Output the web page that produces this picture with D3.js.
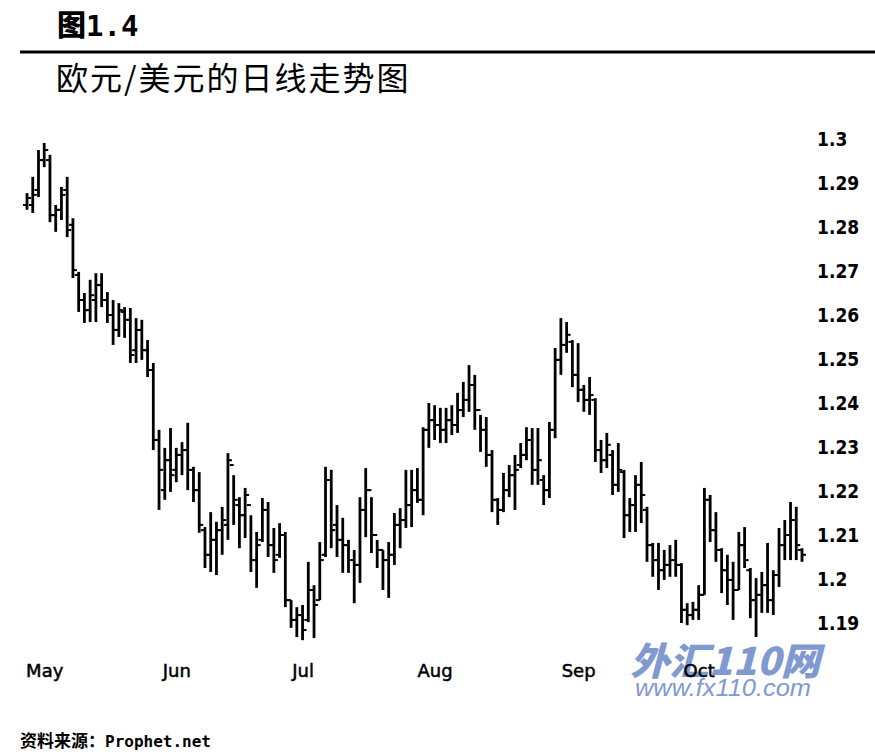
<!DOCTYPE html>
<html>
<head>
<meta charset="utf-8">
<script src="https://cdn.jsdelivr.net/npm/d3@7"></script>
<style>
  body { margin: 0; background: #fff; }
  svg { display: block; }
</style>
</head>
<body>
<div id="chart"></div>
<script>
// Data (EUR/USD daily bars, May - Oct)

const highs  = [1.2877,1.2914,1.2975,1.2991,1.2964,1.2850,1.2891,1.2914,1.2820,1.2698,
                1.2650,1.2680,1.2695,1.2695,1.2652,1.2634,1.2627,1.2618,1.2616,1.2593,
                1.2589,1.2543,1.2491,1.2339,1.2298,1.2343,1.2298,1.2311,1.2355,1.2255,
                1.2243,1.2118,1.2152,1.2130,1.2164,1.2286,1.2236,1.2186,1.2207,1.2145,
                1.2107,1.2184,1.2175,1.2116,1.2127,1.2107,1.1952,1.1936,1.1941,1.2039,
                1.1986,1.2084,1.2255,1.2248,1.2168,1.2139,1.2089,1.2066,1.2186,1.2252,
                1.2186,1.2089,1.2066,1.2084,1.2150,1.2161,1.2248,1.2248,1.2252,1.2345,
                1.2400,1.2395,1.2389,1.2389,1.2395,1.2423,1.2448,1.2486,1.2464,1.2373,
                1.2368,1.2293,1.2184,1.2241,1.2259,1.2282,1.2309,1.2345,1.2343,1.2343,
                1.2236,1.2357,1.2525,1.2593,1.2584,1.2543,1.2536,1.2441,1.2459,1.2411,
                1.2316,1.2332,1.2293,1.2309,1.2248,1.2184,1.2236,1.2266,1.2164,1.2082,
                1.2082,1.2066,1.2077,1.2089,1.2036,1.1945,1.1948,1.1986,1.2207,1.2191,
                1.2152,1.2070,1.2055,1.2039,1.2107,1.2118,1.2025,1.2002,1.2016,1.2082,
                1.2020,1.2116,1.2134,1.2175,1.2164,1.2070];

const lows   = [1.2839,1.2832,1.2868,1.2936,1.2811,1.2789,1.2816,1.2777,1.2684,1.2607,
                1.2582,1.2584,1.2584,1.2618,1.2582,1.2532,1.2550,1.2548,1.2491,1.2491,
                1.2498,1.2459,1.2293,1.2157,1.2180,1.2198,1.2220,1.2236,1.2202,1.2175,
                1.2105,1.2025,1.2016,1.2009,1.2055,1.2089,1.2123,1.2070,1.2093,1.2016,
                1.1980,1.2084,1.2050,1.2014,1.2048,1.1936,1.1889,1.1868,1.1861,1.1902,
                1.1866,1.1952,1.2050,1.2070,1.2050,1.2014,1.2014,1.1945,1.1991,1.2095,
                1.2059,1.2025,1.1975,1.1957,1.2032,1.2070,1.2116,1.2118,1.2173,1.2145,
                1.2298,1.2316,1.2309,1.2309,1.2327,1.2332,1.2368,1.2380,1.2339,1.2289,
                1.2255,1.2152,1.2123,1.2152,1.2186,1.2157,1.2252,1.2270,1.2214,1.2214,
                1.2168,1.2184,1.2320,1.2464,1.2514,1.2436,1.2402,1.2380,1.2373,1.2266,
                1.2241,1.2252,1.2191,1.2198,1.2093,1.2107,1.2107,1.2127,1.2039,1.2005,
                1.1975,1.1998,1.2005,1.2005,1.1900,1.1895,1.1907,1.1907,1.1964,1.2084,
                1.2039,1.1968,1.1941,1.1907,1.1975,1.2025,1.1911,1.1868,1.1923,1.1923,
                1.1918,1.1982,1.2043,1.2043,1.2043,1.2039];

const opens  = [1.2850,1.2850,1.2884,1.2952,1.2952,1.2827,1.2839,1.2884,1.2805,1.2691,
                1.2634,1.2611,1.2634,1.2668,1.2634,1.2600,1.2566,1.2607,1.2589,1.2520,
                1.2566,1.2520,1.2475,1.2316,1.2202,1.2270,1.2248,1.2282,1.2293,1.2248,
                1.2202,1.2111,1.2055,1.2089,1.2111,1.2123,1.2259,1.2168,1.2145,1.2168,
                1.2043,1.2089,1.2157,1.2077,1.2055,1.2100,1.1952,1.1907,1.1918,1.1907,
                1.1975,1.1952,1.2055,1.2225,1.2123,1.2089,1.2077,1.2043,1.2032,1.2157,
                1.2202,1.2100,1.2066,1.2043,1.2055,1.2123,1.2134,1.2168,1.2202,1.2180,
                1.2339,1.2361,1.2350,1.2339,1.2361,1.2350,1.2384,1.2407,1.2441,1.2384,
                1.2339,1.2282,1.2180,1.2157,1.2202,1.2236,1.2259,1.2282,1.2316,1.2248,
                1.2225,1.2202,1.2339,1.2498,1.2532,1.2539,1.2464,1.2430,1.2407,1.2407,
                1.2293,1.2270,1.2282,1.2214,1.2243,1.2145,1.2168,1.2214,1.2157,1.2077,
                1.2043,1.2020,1.2032,1.2043,1.2032,1.1930,1.1918,1.1930,1.1964,1.2180,
                1.2111,1.2066,1.2020,1.1998,1.1975,1.2077,1.2020,1.1952,1.1964,1.1986,
                1.1952,1.2009,1.2077,1.2100,1.2134,1.2066];

const closes = [1.2866,1.2873,1.2952,1.2975,1.2827,1.2839,1.2873,1.2793,1.2702,1.2634,
                1.2611,1.2645,1.2668,1.2634,1.2600,1.2566,1.2611,1.2589,1.2509,1.2566,
                1.2520,1.2475,1.2316,1.2248,1.2270,1.2236,1.2282,1.2293,1.2248,1.2202,
                1.2123,1.2055,1.2089,1.2111,1.2134,1.2270,1.2180,1.2145,1.2191,1.2043,
                1.2077,1.2157,1.2077,1.2043,1.2100,1.1952,1.1907,1.1918,1.1884,1.1975,
                1.1941,1.2043,1.2225,1.2111,1.2089,1.2077,1.2043,1.2032,1.2157,1.2202,
                1.2100,1.2066,1.2043,1.2055,1.2123,1.2134,1.2168,1.2202,1.2180,1.2339,
                1.2361,1.2350,1.2339,1.2361,1.2350,1.2384,1.2407,1.2441,1.2384,1.2339,
                1.2282,1.2180,1.2157,1.2202,1.2236,1.2248,1.2282,1.2316,1.2248,1.2270,
                1.2202,1.2339,1.2498,1.2532,1.2555,1.2464,1.2430,1.2407,1.2418,1.2293,
                1.2270,1.2305,1.2214,1.2248,1.2145,1.2168,1.2214,1.2191,1.2077,1.2043,
                1.2020,1.2032,1.2043,1.2032,1.1930,1.1918,1.1930,1.1964,1.2180,1.2111,
                1.2066,1.2020,1.1998,1.1975,1.2077,1.2043,1.1952,1.1964,1.1986,1.1952,
                1.2009,1.2077,1.2100,1.2134,1.2077,1.2055];

const monthLabels = ["May", "Jun", "Jul", "Aug", "Sep", "Oct"];                                // Month names under the bars
const monthIndex  = [3, 26, 48, 71, 96, 117];                                                  // Bar index each month label sits under
const priceTicks  = [1.19, 1.2, 1.21, 1.22, 1.23, 1.24, 1.25, 1.26, 1.27, 1.28, 1.29, 1.3];   // Right axis tick values

// Build bar rows from the arrays

const bars = highs.map((h, i) => ({i: i, high: h, low: lows[i], open: opens[i], close: closes[i]}));

// Canvas

const width = 875, height = 754;

const svg = d3.select('#chart').append('svg')
    .attr("width", width)
    .attr("height", height);

// Scales

const x = d3.scaleLinear().domain([0, bars.length - 1]).range([27, 802]);                     // Bar index -> pixel
const y = d3.scaleLinear().domain([1.19, 1.3]).range([623, 139]);                              // Price -> pixel

// Header: figure number, rule and title

const fig = svg.append("text")
    .attr("x", 57).attr("y", 36)
    .style("font-weight", "bold")
    .style("font-size", "29px");
fig.append("tspan")
    .style("font-family", "'Noto Sans CJK SC', sans-serif")
    .style("font-weight", "900")
    .text("图");
fig.append("tspan")
    .style("font-family", "'DejaVu Sans Mono', monospace")
    .text("1.4");

svg.append("line")
    .attr("x1", 20).attr("x2", width)
    .attr("y1", 52).attr("y2", 52)
    .style("stroke", "#000")
    .style("stroke-width", 3);

svg.append("text")
    .attr("x", 56).attr("y", 90)
    .style("font-family", "'Noto Sans CJK SC', sans-serif")
    .style("font-size", "32px")
    .style("letter-spacing", "2px")
    .text("欧元/美元的日线走势图");

// Watermark (drawn first so the Oct label sits on top)

svg.append("text")
    .attr("x", 630).attr("y", 675)
    .attr("textLength", 190)
    .attr("lengthAdjust", "spacingAndGlyphs")
    .style("font-family", "'Noto Sans CJK SC', sans-serif")
    .style("font-weight", "900")
    .style("font-style", "italic")
    .style("font-size", "38px")
    .style("fill", "#8099d0")
    .text("外汇110网");

svg.append("text")
    .attr("x", 635).attr("y", 696)
    .attr("textLength", 176)
    .attr("lengthAdjust", "spacingAndGlyphs")
    .style("font-family", "'Liberation Sans', sans-serif")
    .style("font-style", "italic")
    .style("font-size", "24px")
    .style("fill", "#8099d0")
    .text("www.fx110.com");

// OHLC bars

const g = svg.append("g").attr("class", "bars");

const bar = g.selectAll(".bar")
    .data(bars)
    .enter()
    .append("g")
        .attr("class", "bar")
        .attr("transform", d => "translate(" + x(d.i) + ",0)");

bar.append("line")                                                                             // High-low stem
    .attr("y1", d => y(d.high))
    .attr("y2", d => y(d.low))
    .style("stroke", "#000")
    .style("stroke-width", 2.8);

bar.append("line")                                                                             // Open tick, left
    .attr("x1", -4).attr("x2", 0)
    .attr("y1", d => y(d.open)).attr("y2", d => y(d.open))
    .style("stroke", "#000")
    .style("stroke-width", 2);

bar.append("line")                                                                             // Close tick, right
    .attr("x1", 0).attr("x2", 4)
    .attr("y1", d => y(d.close)).attr("y2", d => y(d.close))
    .style("stroke", "#000")
    .style("stroke-width", 2);

// Right price axis

const yAxis = svg.append("g")
    .attr("transform", "translate(810,0)")
    .call(d3.axisRight(y).tickValues(priceTicks).tickSize(0).tickPadding(7)
        .tickFormat(d => String(+d.toFixed(2))));

yAxis.select(".domain").remove();
yAxis.selectAll("text")
    .style("font-family", "'Liberation Sans Narrow', 'DejaVu Sans Condensed', sans-serif")
    .style("font-weight", "bold")
    .style("font-size", "19px")
    .style("fill", "#000");

// Month axis

const xAxis = svg.append("g")
    .attr("transform", "translate(0,661)")
    .call(d3.axisBottom(x).tickValues(monthIndex).tickSize(0).tickPadding(3)
        .tickFormat((d, k) => monthLabels[k]));

xAxis.select(".domain").remove();
xAxis.selectAll("text")
    .style("font-family", "'DejaVu Sans', sans-serif")
    .style("font-size", "18px")
    .style("stroke", "#000")
    .style("stroke-width", 0.5)
    .style("fill", "#000");

// Source note

svg.append("text")
    .attr("x", 20).attr("y", 747)
    .style("font-family", "'Noto Sans CJK SC', sans-serif")
    .style("font-weight", "bold")
    .style("font-size", "17px")
    .text("资料来源：")
  .append("tspan")
    .style("font-family", "'DejaVu Sans Mono', monospace")
    .style("font-size", "16px")
    .text("Prophet.net");
</script>
</body>
</html>
